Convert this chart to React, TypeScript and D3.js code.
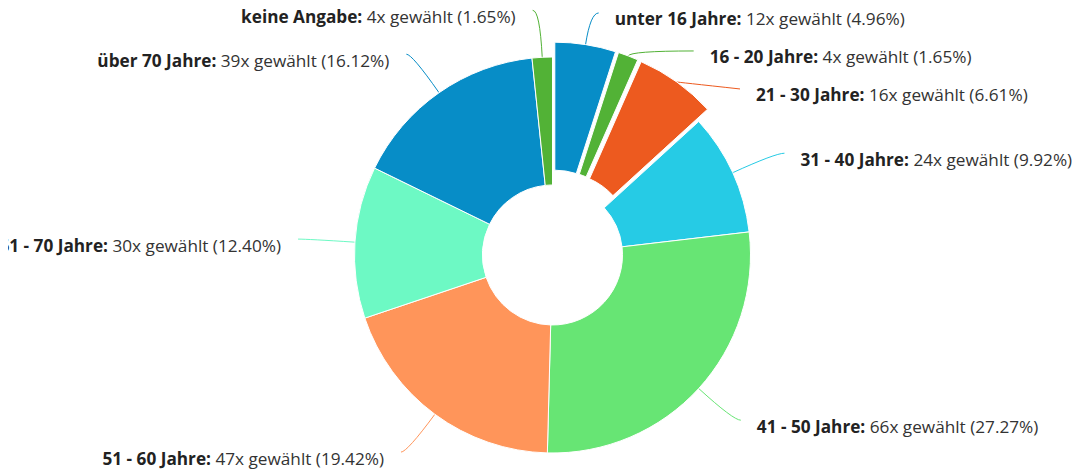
import React, { useEffect, useRef } from "react";
import * as d3 from "d3";

// Altersgruppen und Anzahl der Nennungen (Summe 242)
const categories = [
  "unter 16 Jahre",
  "16 - 20 Jahre",
  "21 - 30 Jahre",
  "31 - 40 Jahre",
  "41 - 50 Jahre",
  "51 - 60 Jahre",
  "61 - 70 Jahre",
  "über 70 Jahre",
  "keine Angabe",
];
const counts = [12, 4, 16, 24, 66, 47, 30, 39, 4];
const colors = [
  "#078dc7",
  "#52b236",
  "#ed5a1f",
  "#26cbe5",
  "#67e574",
  "#ff955a",
  "#6df9c4",
  "#078dc7",
  "#52b236",
];
// pulled-out slices
const explodedSlices = ["unter 16 Jahre", "16 - 20 Jahre", "21 - 30 Jahre"];

const App = () => {
  const ref = useRef<SVGSVGElement>(null);

  useEffect(() => {
    const svg = d3.select(ref.current);
    svg.selectAll("*").remove();

    const cx = 544.5;
    const cy = 247;
    const outerR = 198;
    const innerR = 70;
    const explode = 15;
    // labels sit on a slightly flattened ellipse around the donut
    const labelRx = 255;
    const labelRy = 245;
    const minGap = 38;
    const minTopSpread = 66;
    const total = d3.sum(counts);

    const data = categories.map((c, i) => ({ label: c, value: counts[i], color: colors[i] }));
    const pie = d3
      .pie<any>()
      .value((d) => d.value)
      .sort(null);
    const arcs = pie(data);
    const arc = d3.arc<any>().innerRadius(innerR).outerRadius(outerR);

    const dir = (a: number) => [Math.sin(a), -Math.cos(a)];

    const g = svg.append("g").attr("transform", `translate(${cx},${cy})`);

    // label positions: start at mid angle, then push apart vertically per side
    const items = arcs.map((d) => {
      const mid = (d.startAngle + d.endAngle) / 2;
      const off = explodedSlices.includes(d.data.label) ? explode : 0;
      const [ux, uy] = dir(mid);
      return {
        d,
        mid,
        off,
        right: ux >= 0,
        lx: ux * labelRx,
        ly: uy * labelRy,
      };
    });
    const sides = [true, false].map((side) => {
      const list = items.filter((it) => it.right === side).sort((a, b) => a.ly - b.ly);
      let prev = -Infinity;
      list.forEach((it) => {
        if (it.ly < prev + minGap) {
          it.ly = prev + minGap;
          const k = Math.min(1, Math.abs(it.ly) / labelRy);
          const dx = labelRx * Math.sqrt(1 - k * k);
          it.lx = side ? dx : -dx;
        }
        prev = it.ly;
      });
      return list;
    });
    // top labels of both sides too close together -> spread horizontally
    const topR = sides[0][0];
    const topL = sides[1][0];
    if (topR && topL && Math.abs(topR.ly - topL.ly) < minGap && topR.lx - topL.lx < minTopSpread) {
      const extra = (minTopSpread - (topR.lx - topL.lx)) / 2;
      topR.lx += extra;
      topL.lx -= extra;
    }

    // leader lines
    items.forEach((it) => {
      const [ux, uy] = dir(it.mid);
      const p0 = [ux * (outerR + it.off), uy * (outerR + it.off)];
      const p2 = [it.lx, it.ly];
      const dist = Math.hypot(p2[0] - p0[0], p2[1] - p0[1]);
      let t = Math.abs(uy) > 0.01 ? (p2[1] - p0[1]) / uy : 0;
      t = Math.max(0, Math.min(dist, t));
      const p1 = [p0[0] + ux * t, p0[1] + uy * t];
      const path = d3.path();
      path.moveTo(p0[0], p0[1]);
      path.quadraticCurveTo(p1[0], p1[1], p2[0], p2[1]);
      g.append("path")
        .attr("d", path.toString())
        .attr("fill", "none")
        .attr("stroke", it.d.data.color)
        .attr("stroke-width", 1);
    });

    // slices
    g.selectAll("path.slice")
      .data(items)
      .enter()
      .append("path")
      .attr("class", "slice")
      .attr("d", (it) => arc(it.d))
      .attr("transform", (it) => {
        const [ux, uy] = dir(it.mid);
        return `translate(${ux * it.off},${uy * it.off})`;
      })
      .attr("fill", (it) => it.d.data.color)
      .attr("stroke", "#fff")
      .attr("stroke-width", 1);

    // labels
    const fmt = (v: number) => ((v / total) * 100).toFixed(2);
    items.forEach((it) => {
      const t = g
        .append("text")
        .attr("x", it.right ? it.lx + 16 : it.lx - 17)
        .attr("y", it.ly + 12.5)
        .attr("text-anchor", it.right ? "start" : "end")
        .style("font-family", "'Open Sans', sans-serif")
        .style("font-size", "17.2px")
        .attr("fill", "#333");
      t.append("tspan").style("font-weight", "bold").attr("fill", "#222").text(`${it.d.data.label}:`);
      t.append("tspan").text(` ${it.d.data.value}x gewählt (${fmt(it.d.data.value)}%)`);
    });
  }, []);

  return (
    <svg
      ref={ref}
      width={1070}
      height={465}
      style={{ display: "block", position: "absolute", left: 8, top: 8 }}
    />
  );
};

export default App;
